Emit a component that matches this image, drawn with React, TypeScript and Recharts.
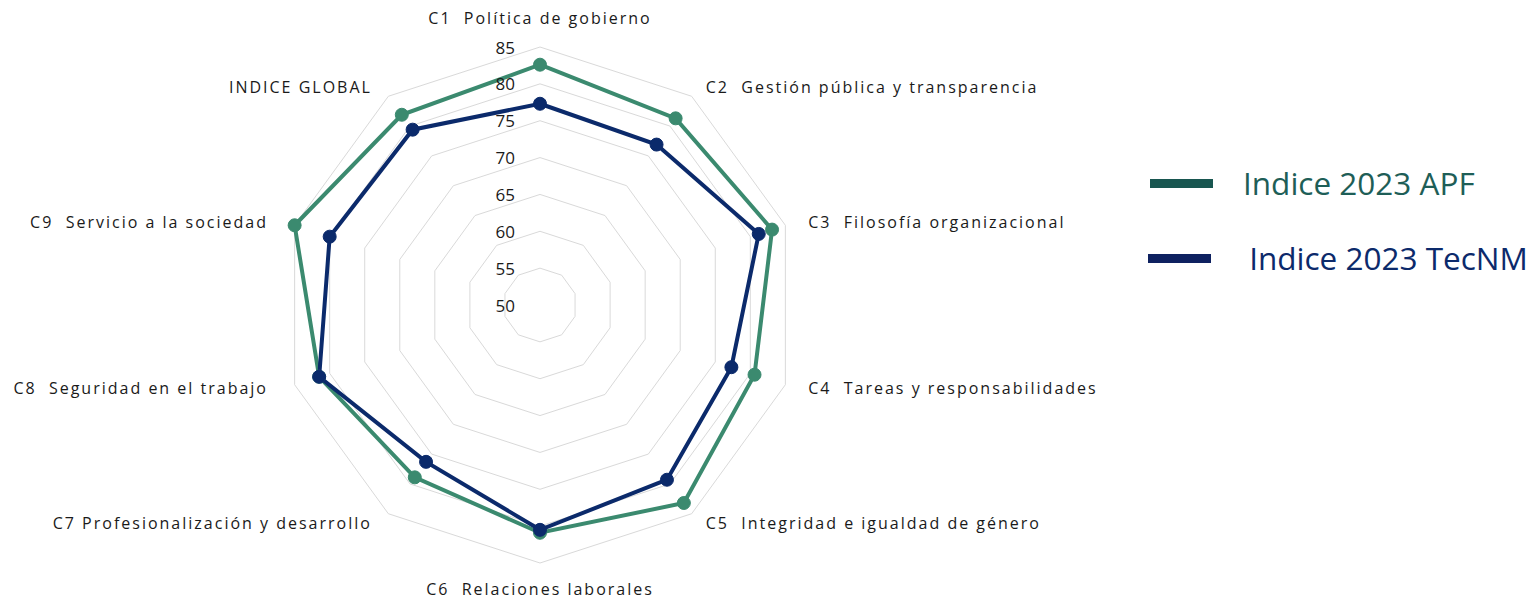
import React from 'react';
import { RadarChart, Radar, PolarGrid, PolarAngleAxis, PolarRadiusAxis, Legend } from 'recharts';

const categories = [
  'C1  Política de gobierno',
  'C2  Gestión pública y transparencia',
  'C3  Filosofía organizacional',
  'C4  Tareas y responsabilidades',
  'C5  Integridad e igualdad de género',
  'C6  Relaciones laborales',
  'C7 Profesionalización y desarrollo',
  'C8  Seguridad en el trabajo',
  'C9  Servicio a la sociedad',
  'INDICE GLOBAL',
];
const apf = [82.6, 81.3, 83.1, 80.6, 83.2, 80.9, 78.9, 81.5, 85.0, 81.9];
const tecnm = [77.3, 76.9, 81.2, 77.3, 79.3, 80.5, 76.3, 81.5, 80.0, 79.4];
const radiusTicks = [50, 55, 60, 65, 70, 75, 80, 85];
const seriesKeys = ['apf', 'tecnm'];
const seriesNames = ['Indice 2023 APF', ' Indice 2023 TecNM'];

const data = categories.map((c, i) => ({ cat: c, apf: apf[i], tecnm: tecnm[i] }));

const W = 1529;
const H = 591;
const CX = 532;
const CY = 297;
const R = 258;

const COLORS: Record<string, string> = { apf: '#3b8a6f', tecnm: '#0b2a6b' };
const LEGEND_SWATCH: Record<string, string> = { apf: '#185650', tecnm: '#0e2160' };
const LEGEND_TEXT: Record<string, string> = { apf: '#1e5e57', tecnm: '#0c2a6b' };

const AngleTick = (props: any) => {
  const { x, y, textAnchor, payload } = props;
  const dxn = x - CX;
  const dyn = y - CY;
  const len = Math.sqrt(dxn * dxn + dyn * dyn) || 1;
  const cos = Math.abs(dxn / len);
  let dx = 0;
  let dy = 0;
  if (textAnchor === 'middle') {
    dy = dyn < 0 ? -21 : 18;
  } else if (textAnchor === 'start') {
    dx = 16 * cos;
    dy = (dyn / len) * 4;
  } else {
    dx = -20 * cos;
    dy = (dyn / len) * 4;
  }
  return (
    <text
      x={x + dx}
      y={y + dy}
      textAnchor={textAnchor}
      dominantBaseline="central"
      fontFamily="'Open Sans', sans-serif"
      fontSize={16}
      fontWeight={500}
      letterSpacing={2}
      fill="#1a1a1a"
      style={{ whiteSpace: 'pre' }}
    >
      {payload.value}
    </text>
  );
};

const RadiusTick = (props: any) => {
  const { x, y, payload } = props;
  return (
    <text
      x={x - 25}
      y={y}
      textAnchor="end"
      dominantBaseline="central"
      fontFamily="'Open Sans', sans-serif"
      fontSize={17}
      fontWeight={500}
      fill="#1a1a1a"
    >
      {payload.value}
    </text>
  );
};

const makeDot = (color: string) => (p: any) => (
  <circle key={`d-${p.index}`} cx={p.cx} cy={p.cy} r={6.5} fill={color} stroke={color} strokeWidth={1} />
);

const LegendContent = (props: any) => {
  const payload = [...(props.payload || [])].sort(
    (a: any, b: any) => seriesKeys.indexOf(a.dataKey) - seriesKeys.indexOf(b.dataKey)
  );
  return (
    <div style={{ position: 'relative', width: 390, height: 150 }}>
      {payload.map((p: any, i: number) => (
        <div
          key={i}
          style={{
            position: 'absolute',
            left: i === 0 ? 2 : 0,
            top: i * 75,
            display: 'flex',
            alignItems: 'center',
            height: 40,
          }}
        >
          <div style={{ width: 63, height: 9, background: LEGEND_SWATCH[p.dataKey] }} />
          <span
            style={{
              marginLeft: 30,
              fontFamily: "'Open Sans', sans-serif",
              fontSize: 31.5,
              color: LEGEND_TEXT[p.dataKey],
              whiteSpace: 'pre',
              lineHeight: '40px',
            }}
          >
            {p.value}
          </span>
        </div>
      ))}
    </div>
  );
};

export default function App() {
  return (
    <div style={{ width: W, height: H, position: 'relative', overflow: 'hidden' }}>
      <RadarChart width={W} height={H} data={data} cx={CX} cy={CY} outerRadius={R}>
        <PolarGrid radialLines={false} stroke="#d9d9d9" strokeWidth={1} />
        <PolarAngleAxis dataKey="cat" tick={<AngleTick />} tickLine={false} axisLine={false} />
        <PolarRadiusAxis
          angle={90}
          domain={[50, 85]}
          ticks={radiusTicks as any}
          tickCount={8}
          tick={<RadiusTick />}
          axisLine={false}
          tickLine={false}
        />
        <Radar
          name={seriesNames[0]}
          dataKey="apf"
          stroke={COLORS.apf}
          strokeWidth={4}
          fill="none"
          fillOpacity={0}
          dot={makeDot(COLORS.apf)}
          isAnimationActive={false}
        />
        <Radar
          name={seriesNames[1]}
          dataKey="tecnm"
          stroke={COLORS.tecnm}
          strokeWidth={4}
          fill="none"
          fillOpacity={0}
          dot={makeDot(COLORS.tecnm)}
          isAnimationActive={false}
        />
        <Legend
          content={<LegendContent />}
          wrapperStyle={{ position: 'absolute', left: 1140, top: 155, width: 390, height: 150 }}
        />
      </RadarChart>
    </div>
  );
}
